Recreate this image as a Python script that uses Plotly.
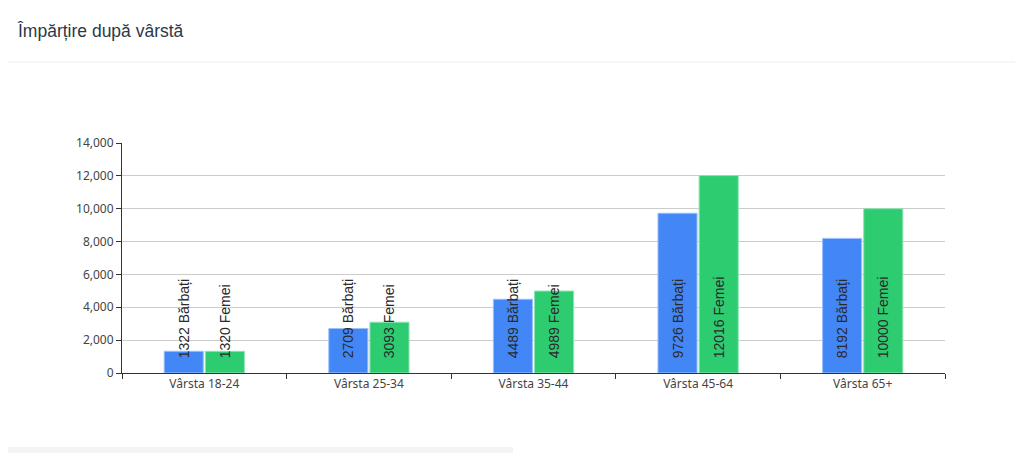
import plotly.graph_objects as go

# Data
categories = ["Vârsta 18-24", "Vârsta 25-34", "Vârsta 35-44", "Vârsta 45-64", "Vârsta 65+"]
barbati = [1322, 2709, 4489, 9726, 8192]
femei = [1320, 3093, 4989, 12016, 10000]
y_ticks = [0, 2000, 4000, 6000, 8000, 10000, 12000, 14000]

pad = "\u00a0" * 3  # leaves a gap above the bar base, like the original
label_font = dict(family="Liberation Sans, Arial, sans-serif", size=14, color="#2a2a2a")

fig = go.Figure()
fig.add_trace(go.Bar(
    x=categories, y=barbati, name="Bărbați",
    marker=dict(color="#4287f5", line=dict(color="#9cc0fb", width=1)),
    texttemplate=pad + "%{y:.0f} Bărbați",
    textposition="inside", insidetextanchor="start", textangle=-90,
    constraintext="none", cliponaxis=False, textfont=label_font,
))
fig.add_trace(go.Bar(
    x=categories, y=femei, name="Femei",
    marker=dict(color="#2ecc71", line=dict(color="#8fe3b3", width=1)),
    texttemplate=pad + "%{y:.0f} Femei",
    textposition="inside", insidetextanchor="start", textangle=-90,
    constraintext="none", cliponaxis=False, textfont=label_font,
))

tick_font = dict(family="Noto Sans, Open Sans, sans-serif", size=12, color="#444444")

# the page body adds an 8px offset, so the figure is 8px smaller
fig.update_layout(
    width=1015, height=445,
    margin=dict(l=114, r=78, t=135, b=80),
    paper_bgcolor="white", plot_bgcolor="white",
    barmode="group", bargap=0.5, bargroupgap=0.05,
    showlegend=False,
    title=dict(text="Împărțire după vârstă", x=10 / 1015, y=1 - 23 / 445,
               xanchor="left", yanchor="middle",
               font=dict(family="Liberation Sans, Arial, sans-serif", size=17.5, color="#2d3748")),
    xaxis=dict(showline=True, linecolor="#333333", linewidth=1,
               ticks="outside", ticklen=5, tickcolor="#333333", tickson="boundaries",
               tickfont=tick_font, showgrid=False),
    yaxis=dict(range=[0, 14000], tickvals=y_ticks, tickformat=",",
               showline=True, linecolor="#333333", linewidth=1,
               ticks="outside", ticklen=5, tickcolor="#333333",
               gridcolor="#cccccc", gridwidth=1, zeroline=False,
               tickfont=tick_font),
    shapes=[
        # header separator
        dict(type="line", xref="paper", yref="paper",
             x0=-0.148, x1=1.1, y0=1.352, y1=1.352,
             line=dict(color="#efefef", width=1)),
        # grey strip below the card
        dict(type="rect", xref="paper", yref="paper",
             x0=-0.15, x1=0.475, y0=-0.36, y1=-0.322,
             fillcolor="#f4f4f6", line=dict(width=0), layer="below"),
    ],
)

fig.write_html("out.html")
